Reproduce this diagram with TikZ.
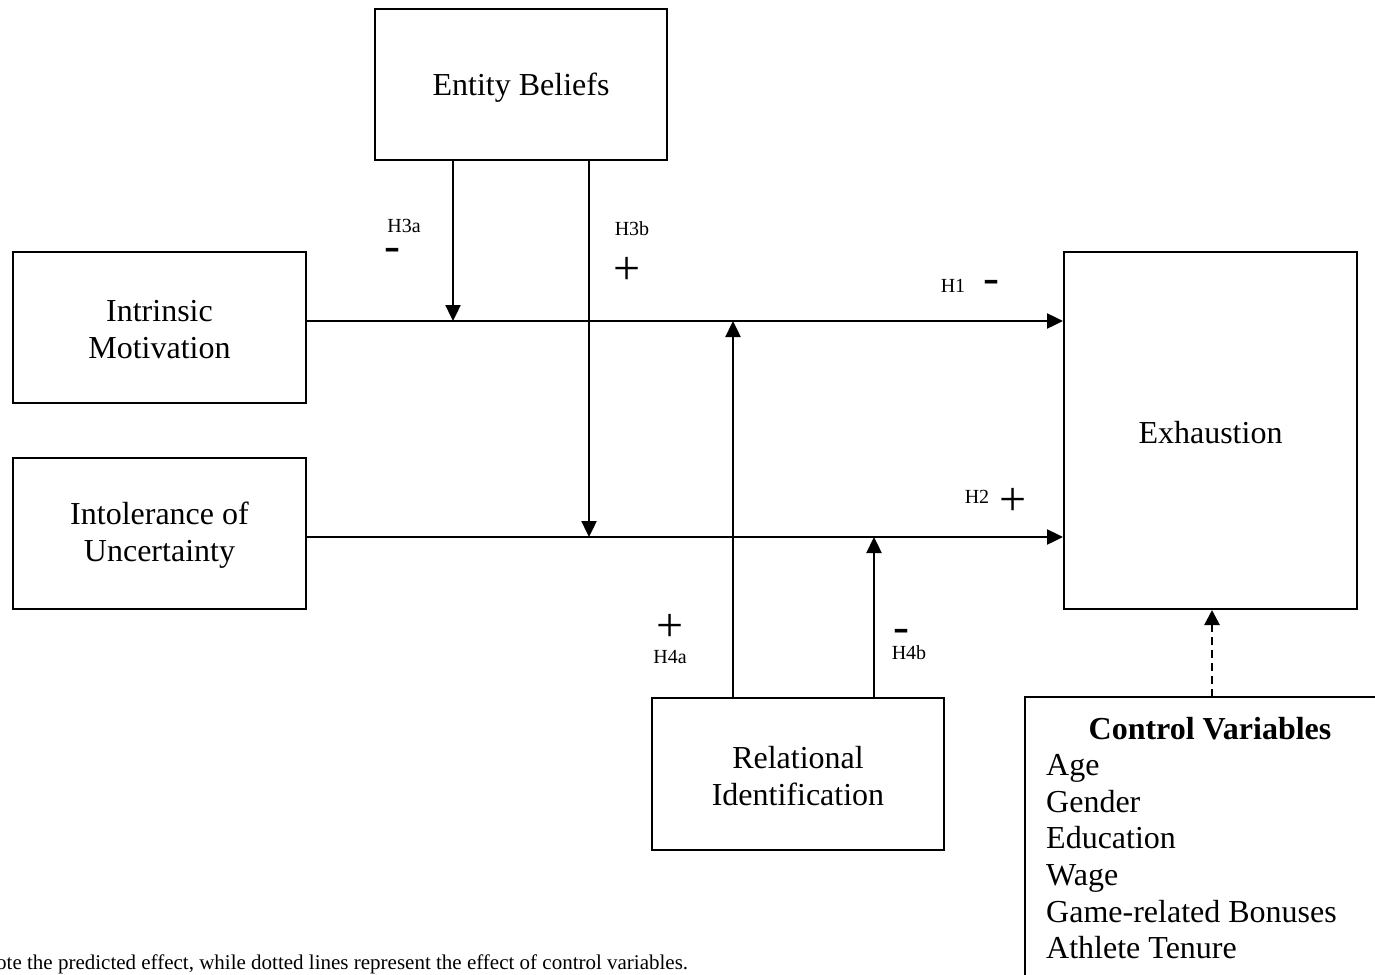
\documentclass[tikz,border=0pt]{standalone}
\usepackage{fontspec}
\setmainfont{Liberation Serif}
\usetikzlibrary{arrows.meta}
\tikzset{
  box/.style={draw, line width=2pt, rectangle, inner sep=0pt, align=center,
    font=\fontsize{32}{37}\selectfont},
  arr/.style={line width=2.4pt, -{Triangle[length=16pt,width=15pt]}},
  dasharr/.style={line width=2.6pt, dash pattern=on 8pt off 5pt, -{Triangle[length=15pt,width=15pt]}},
  hlab/.style={inner sep=0pt, font=\fontsize{20}{22}\selectfont},
  sign/.style={inner sep=0pt, font=\fontsize{48}{50}\selectfont},
  cvtext/.style={inner sep=0pt, anchor=base west, font=\fontsize{32}{37}\selectfont},
}
\newcommand{\lowertext}[2]{\raisebox{-#1}[\height][\depth]{#2}}
\begin{document}
\begin{tikzpicture}[x=1pt,y=-1pt]
\useasboundingbox (0,0) rectangle (1375,974);
\clip (0,0) rectangle (1375,974);
% boxes
\node[box, minimum width=292pt, minimum height=151pt] (eb) at (521,84.5) {\lowertext{3pt}{Entity Beliefs}};
\node[box, minimum width=293pt, minimum height=151pt] (im) at (159.5,327.5) {\lowertext{2pt}{Intrinsic}\\\lowertext{2pt}{Motivation}};
\node[box, minimum width=293pt, minimum height=151pt] (iu) at (159.5,533.5) {\lowertext{2pt}{Intolerance of}\\\lowertext{2pt}{Uncertainty}};
\node[box, minimum width=293pt, minimum height=357pt] (ex) at (1210.5,430.5) {\lowertext{2pt}{Exhaustion}};
\node[box, minimum width=292pt, minimum height=152pt] (ri) at (798,774) {\lowertext{2pt}{Relational}\\\lowertext{2pt}{Identification}};
\node[box, minimum width=380pt, minimum height=320pt] (cv) at (1215,857) {};
% control variable texts
\node[inner sep=0pt, font=\fontsize{32}{37}\selectfont\bfseries] (cvt) at (1210,729) {Control Variables};
\node[cvtext] (c1) at (1046,775) {Age};
\node[cvtext] (c2) at (1046,812) {Gender};
\node[cvtext] (c3) at (1046,848) {Education};
\node[cvtext] (c4) at (1046,885) {Wage};
\node[cvtext] (c5) at (1046,922) {Game-related Bonuses};
\node[cvtext] (c6) at (1046,958) {Athlete Tenure};
% junction points
\coordinate (j1) at (453,321);
\coordinate (j2) at (589,537);
\coordinate (j3) at (733,321);
\coordinate (j4) at (874,537);
% main arrows
\draw[arr] (im.east |- j1) -- (ex.west |- j1);
\draw[arr] (iu.east |- j2) -- (ex.west |- j2);
% moderators
\draw[arr] (eb.south -| j1) -- (j1);
\draw[arr] (eb.south -| j2) -- (j2);
\draw[arr] (ri.north -| j3) -- (j3);
\draw[arr] (ri.north -| j4) -- (j4);
% control
\coordinate (cvtop) at (1212,697);
\draw[dasharr] (cvtop) -- (cvtop |- ex.south);
% labels
\node[hlab] (h3a) at (404,226) {H3a};
\node[sign] (s3a) at (392,255) {-};
\node[hlab] (h3b) at (632,229) {H3b};
\node[sign] (s3b) at (627,271) {+};
\node[hlab] (h1) at (953,286) {H1};
\node[sign] (s1) at (991,287) {-};
\node[hlab] (h2) at (977,497) {H2};
\node[sign] (s2) at (1013,502) {+};
\node[sign] (s4a) at (670,628) {+};
\node[hlab] (h4a) at (670,657) {H4a};
\node[sign] (s4b) at (901,636) {-};
\node[hlab] (h4b) at (909,653) {H4b};
% note
\node[inner sep=0pt, anchor=base west, font=\fontsize{21}{23}\selectfont] (note) at (-4,969) {ote the predicted effect, while dotted lines represent the effect of control variables.};
\end{tikzpicture}
\end{document}
